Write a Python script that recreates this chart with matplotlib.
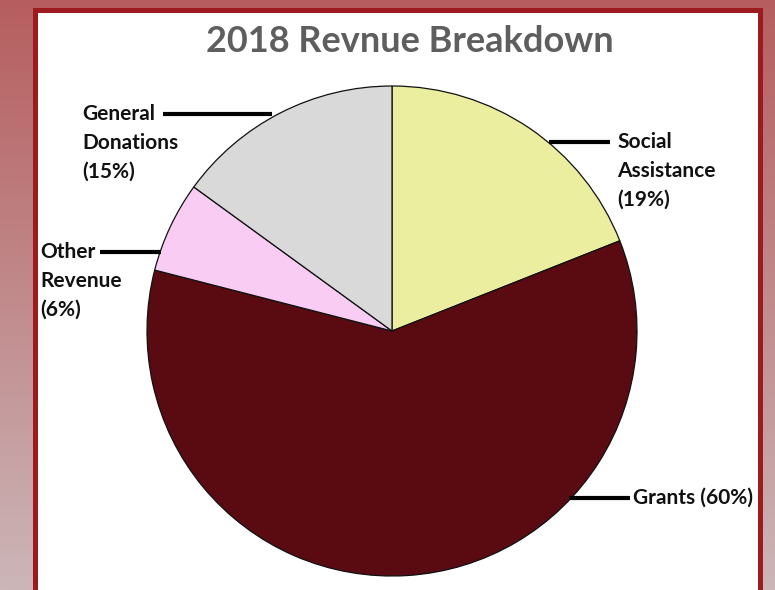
import numpy as np
import matplotlib
matplotlib.use("Agg")
import matplotlib.pyplot as plt
from matplotlib.patches import Rectangle

# ---- data ----
title = "2018 Revnue Breakdown"
categories = ["Social Assistance", "Grants", "Other Revenue", "General Donations"]
values = [19, 60, 6, 15]
labels = ["Social\nAssistance\n(19%)", "Grants (60%)", "Other\nRevenue\n(6%)", "General\nDonations\n(15%)"]
colors = ["#EBEE9E", "#5A0A11", "#F9CDF3", "#D9D9D9"]

W, H = 775, 590
fig = plt.figure(figsize=(W / 100, H / 100), dpi=100)
ax = fig.add_axes([0, 0, 1, 1])

def Y(ypx):
    return H - ypx

# background gradient
top = np.array([182, 94, 95]) / 255
bot = np.array([204, 182, 184]) / 255
t = np.linspace(0, 1, 256)[:, None]
grad = (top * (1 - t) + bot * t)[:, None, :]
ax.imshow(grad, extent=(0, W, 0, H), aspect="auto", zorder=0, origin="upper")

# white panel with red border
ax.add_patch(Rectangle((34.5, -20), 725, Y(9.5) + 20, facecolor="white",
                       edgecolor="#9B1B1F", linewidth=3.6, zorder=1))

# pie
wedges, _ = ax.pie(values, colors=colors, startangle=90, counterclock=False,
                   center=(392, Y(331)), radius=245,
                   wedgeprops=dict(edgecolor="#111111", linewidth=0.9, zorder=3))
for w in wedges:
    w.set_zorder(3)

font = "Lato"
# leader lines and labels
leaders = {
    "Social Assistance": ((549, 610), 142, 617),
    "Grants": ((569, 630), 498, 633),
    "Other Revenue": ((100, 161), 252, 40),
    "General Donations": ((163, 272), 114, 82),
}
for cat, lab in zip(categories, labels):
    (x0, x1), ypx, tx = leaders[cat]
    ax.plot([x0, x1], [Y(ypx), Y(ypx)], color="black", linewidth=3.0,
            solid_capstyle="butt", zorder=4)
    for i, line in enumerate(lab.split("\n")):
        ax.text(tx, Y(ypx + i * 28.8), line, ha="left", va="center",
                fontsize=15, fontweight="bold", family=font, color="#111111", zorder=5)

ax.text(410, Y(42), title, ha="center", va="center", fontsize=26,
        fontweight="bold", family=font, color="#5E5E5E", zorder=5)

ax.set_xlim(0, W)
ax.set_ylim(0, H)
ax.set_axis_off()
fig.savefig("out.png", dpi=100)
